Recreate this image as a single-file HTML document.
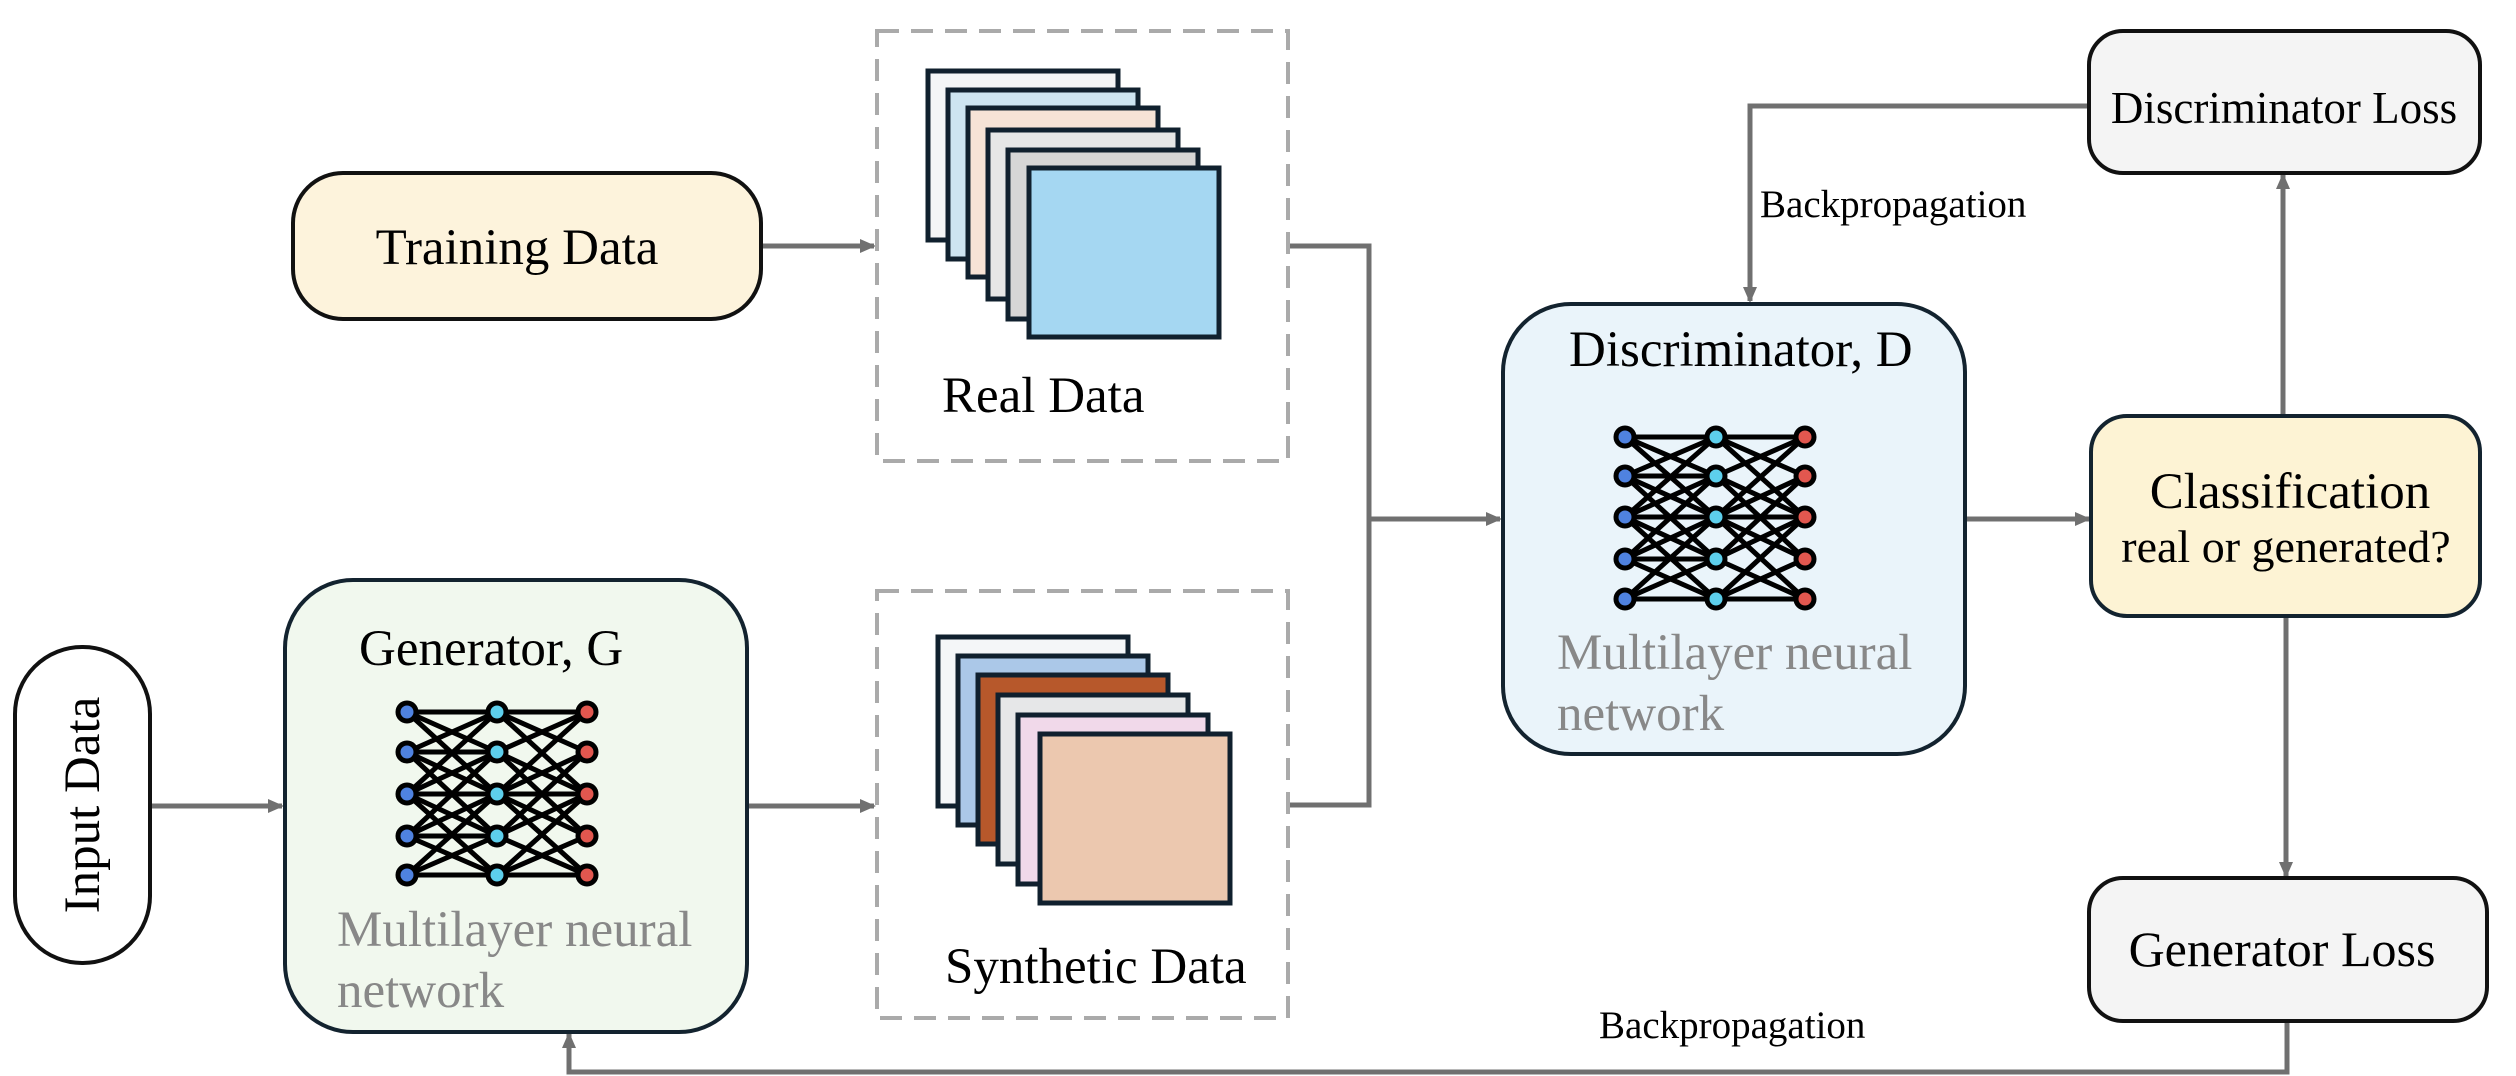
<!DOCTYPE html>
<html><head><meta charset="utf-8"><style>
html,body{margin:0;padding:0;background:#fff;overflow:hidden;}
svg{display:block;}
text{font-family:"Liberation Serif",serif;}
</style></head><body>
<svg id="s" width="2516" height="1076" viewBox="0 0 2516 1076" xmlns="http://www.w3.org/2000/svg">
<defs>
<marker id="b" markerWidth="16" markerHeight="16" refX="14" refY="8" orient="auto" markerUnits="userSpaceOnUse"><path d="M0,1 L16,8 L0,15 z" fill="#707070"/></marker>
</defs>
<g fill="none" stroke="#707070" stroke-width="5">
<line x1="761" y1="246" x2="874" y2="246" marker-end="url(#b)"/>
<line x1="150" y1="806" x2="282" y2="806" marker-end="url(#b)"/>
<line x1="747" y1="806" x2="874" y2="806" marker-end="url(#b)"/>
<polyline points="1290,246 1369,246 1369,805 1290,805"/>
<line x1="1369" y1="519" x2="1500" y2="519" marker-end="url(#b)"/>
<line x1="1965" y1="519" x2="2089" y2="519" marker-end="url(#b)"/>
<line x1="2283" y1="416" x2="2283" y2="175" marker-end="url(#b)"/>
<line x1="2286" y1="616" x2="2286" y2="876" marker-end="url(#b)"/>
<polyline points="2089,106 1750,106 1750,301" marker-end="url(#b)"/>
<polyline points="2287,1021 2287,1072 569,1072 569,1034" marker-end="url(#b)"/>
</g>
<rect x="877" y="31" width="411" height="430" fill="none" stroke="#aaa" stroke-width="4" stroke-dasharray="22,12"/>
<rect x="877" y="591" width="411" height="427" fill="none" stroke="#aaa" stroke-width="4" stroke-dasharray="22,12"/>
<g stroke="#10202e" stroke-width="5">
<rect x="928" y="71" width="190" height="169" fill="#f4f5f6"/>
<rect x="948" y="90" width="190" height="169" fill="#cde4f1"/>
<rect x="968" y="108" width="190" height="169" fill="#f6e3d6"/>
<rect x="988" y="130" width="190" height="169" fill="#e6e6e6"/>
<rect x="1008" y="150" width="190" height="169" fill="#d6d6d6"/>
<rect x="1029" y="168" width="190" height="169" fill="#a5d7f2"/>
</g>
<g stroke="#10202e" stroke-width="5">
<rect x="938" y="637" width="190" height="169" fill="#f4f6f8"/>
<rect x="958" y="656" width="190" height="169" fill="#abc8e8"/>
<rect x="978" y="675" width="190" height="169" fill="#b7582b"/>
<rect x="998" y="695" width="190" height="169" fill="#e6e7e8"/>
<rect x="1018" y="715" width="190" height="169" fill="#f1d9ea"/>
<rect x="1040" y="734" width="190" height="169" fill="#ecc8af"/>
</g>
<text x="942" y="412" font-size="51">Real Data</text>
<text x="945" y="983" font-size="51">Synthetic Data</text>
<rect x="293" y="173" width="468" height="146" rx="50" fill="#fdf3dc" stroke="#111" stroke-width="4"/>
<text x="517" y="264" font-size="51" text-anchor="middle">Training Data</text>
<rect x="15" y="647" width="135" height="316" rx="67" fill="#fff" stroke="#111" stroke-width="4"/>
<text transform="translate(99,805) rotate(-90)" font-size="51" text-anchor="middle" dy="0">Input Data</text>
<rect x="285" y="580" width="462" height="452" rx="68" fill="#f1f8ee" stroke="#13232f" stroke-width="4"/>
<text x="359" y="665" font-size="51">Generator, G</text>
<text x="337" y="946" font-size="51" fill="#888">Multilayer neural</text>
<text x="337" y="1007" font-size="51" fill="#888">network</text>
<rect x="1503" y="304" width="462" height="450" rx="68" fill="#eaf4fa" stroke="#13232f" stroke-width="4"/>
<text x="1569" y="366" font-size="51">Discriminator, D</text>
<text x="1557" y="669" font-size="51" fill="#888">Multilayer neural</text>
<text x="1557" y="730" font-size="51" fill="#888">network</text>
<rect x="2091" y="416" width="389" height="200" rx="36" fill="#fdf3d4" stroke="#13232f" stroke-width="4"/>
<text x="2290" y="508" font-size="51" text-anchor="middle">Classification</text>
<text x="2286" y="562" font-size="46" text-anchor="middle">real or generated?</text>
<rect x="2089" y="31" width="391" height="142" rx="34" fill="#f4f4f4" stroke="#111" stroke-width="4"/>
<text x="2284" y="123" font-size="45" text-anchor="middle">Discriminator Loss</text>
<rect x="2089" y="878" width="398" height="143" rx="34" fill="#f4f4f4" stroke="#111" stroke-width="4"/>
<text x="2282" y="966" font-size="50" text-anchor="middle">Generator Loss</text>
<text x="1760" y="217" font-size="39">Backpropagation</text>
<text x="1599" y="1038" font-size="39">Backpropagation</text>
<g id="nn1"></g><g id="nn2"></g>
</svg>
<script>
function nn(id,cols,rows){
 var g=document.getElementById(id),s="";
 for(var c=0;c<2;c++)for(var i=0;i<5;i++)for(var j=0;j<5;j++){ if(Math.abs(i-j)<=2 && !(c==1&&i==j&&i%2==1))
  s+='<line x1="'+cols[c]+'" y1="'+rows[i]+'" x2="'+cols[c+1]+'" y2="'+rows[j]+'" stroke="#000" stroke-width="5"/>';}
 var f=["#4f82e0","#5dcfec","#e2574f"];
 for(var c=0;c<3;c++)for(var i=0;i<5;i++)
  s+='<circle cx="'+cols[c]+'" cy="'+rows[i]+'" r="9" fill="'+f[c]+'" stroke="#000" stroke-width="5"/>';
 g.innerHTML=s;
}
nn("nn1",[407,497,587],[712,752,794,836,875]);
nn("nn2",[1625,1716,1805],[437,476,517,559,599]);
</script>
</body></html>
